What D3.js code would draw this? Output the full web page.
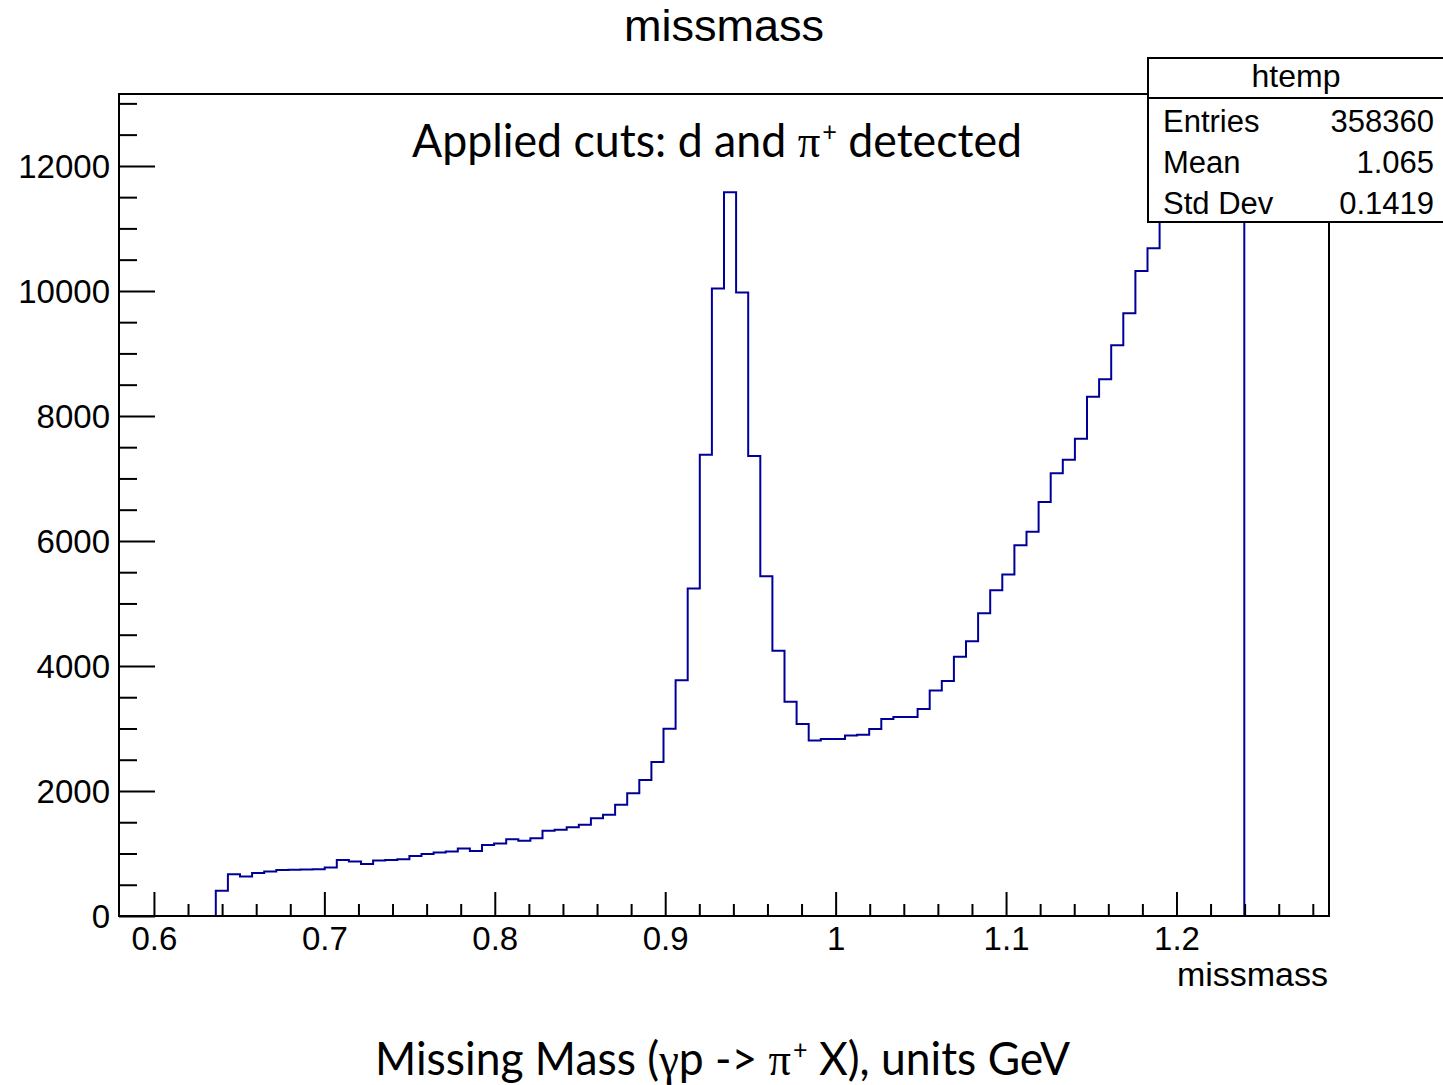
<!DOCTYPE html>
<html lang="en">
<head>
<meta charset="utf-8">
<title>missmass</title>
<script src="https://d3js.org/d3.v7.min.js"></script>
<style>
  body { margin: 0; background: #fff; }
  svg { display: block; font-family: "Liberation Sans", Arial, sans-serif; }
</style>
</head>
<body>
<script>
// histogram range (ROOT htemp, 100 bins)
var xMin = 0.5795, xMax = 1.2895, nBins = 100;

// bin contents, bin 0 .. 99
var counts = [
  0, 0, 0, 0, 0, 0, 0, 0,
  405, 668, 630, 689, 710, 737, 740, 742, 748, 774,
  897, 870, 833, 886, 897, 908, 961, 993, 1014, 1030,
  1078, 1041, 1137, 1160, 1228, 1202, 1245, 1362, 1378, 1421,
  1458, 1565, 1618, 1778, 1965, 2175, 2462, 2996, 3770, 5239,
  7380, 10040, 11578, 9976, 7359, 5436, 4245, 3428, 3071, 2809,
  2831, 2831, 2887, 2900, 2991, 3151, 3183, 3183, 3311, 3609,
  3760, 4149, 4395, 4843, 5212, 5463, 5933, 6147, 6622, 7081,
  7300, 7635, 8305, 8587, 9132, 9644, 10317, 10683,
  11400, 12000, 12600, 13300, 13900, 14500, 15100,
  0, 0, 0, 0, 0, 0, 0
];

var xMajor = [0.6, 0.7, 0.8, 0.9, 1.0, 1.1, 1.2];
var xMajorLabels = ["0.6", "0.7", "0.8", "0.9", "1", "1.1", "1.2"];
var xMinor = [0.62, 0.64, 0.66, 0.68, 0.72, 0.74, 0.76, 0.78, 0.82, 0.84, 0.86, 0.88,
  0.92, 0.94, 0.96, 0.98, 1.02, 1.04, 1.06, 1.08, 1.12, 1.14, 1.16, 1.18,
  1.22, 1.24, 1.26, 1.28];
var yMajor = [0, 2000, 4000, 6000, 8000, 10000, 12000];
var yMinor = [500, 1000, 1500, 2500, 3000, 3500, 4500, 5000, 5500, 6500, 7000, 7500,
  8500, 9000, 9500, 10500, 11000, 11500, 12500, 13000];

var statNames = ["Entries", "Mean", "Std Dev"];
var statValues = ["358360", "1.065", "0.1419"];

var width = 1443, height = 1085;
var padL = 119, padR = 1329, padT = 94, padB = 916;

var svg = d3.select("body").append("svg")
    .attr("width", width)
    .attr("height", height);

var x = d3.scaleLinear().domain([xMin, xMax]).range([padL, padR]);
var y = d3.scaleLinear().domain([0, 13150]).range([padB, padT]);

svg.append("clipPath").attr("id", "frame")
  .append("rect")
    .attr("x", padL).attr("y", padT)
    .attr("width", padR - padL).attr("height", padB - padT);

// step outline of the histogram
var binW = (xMax - xMin) / nBins;
var pts = [[x(xMin), y(0)]];
counts.forEach(function(c, i) {
    pts.push([x(xMin + i * binW), y(c)]);
    pts.push([x(xMin + (i + 1) * binW), y(c)]);
});
pts.push([x(xMax), y(0)]);

svg.append("path")
    .attr("clip-path", "url(#frame)")
    .attr("d", d3.line()(pts))
    .attr("fill", "none")
    .attr("stroke", "#000099")
    .attr("stroke-width", 2);

// axes: ticks point into the frame
svg.append("g")
    .attr("transform", "translate(0," + padB + ")")
    .call(d3.axisBottom(x).tickValues(xMajor)
        .tickFormat(function(d, i) { return xMajorLabels[i]; })
        .tickSizeInner(-24).tickSizeOuter(0).tickPadding(11));
svg.append("g")
    .attr("transform", "translate(0," + padB + ")")
    .call(d3.axisBottom(x).tickValues(xMinor).tickFormat("")
        .tickSizeInner(-12).tickSizeOuter(0));

var yAxis = svg.append("g")
    .attr("transform", "translate(" + padL + ",0)")
    .call(d3.axisLeft(y).tickValues(yMajor).tickFormat(d3.format("d"))
        .tickSizeInner(-36).tickSizeOuter(0).tickPadding(9));
svg.append("g")
    .attr("transform", "translate(" + padL + ",0)")
    .call(d3.axisLeft(y).tickValues(yMinor).tickFormat("")
        .tickSizeInner(-18).tickSizeOuter(0));

svg.selectAll(".domain").remove();
svg.selectAll(".tick line").attr("stroke", "#000").attr("stroke-width", 2);
svg.selectAll(".tick text")
    .attr("fill", "#000")
    .style("font-size", "33px")
    .style("font-family", "'Liberation Sans', Arial, sans-serif");
yAxis.selectAll(".tick text").attr("dy", "0.35em");

// frame
svg.append("rect")
    .attr("x", padL).attr("y", padT)
    .attr("width", padR - padL).attr("height", padB - padT)
    .attr("fill", "none")
    .attr("stroke", "#000")
    .attr("stroke-width", 2);

// titles
svg.append("text")
    .attr("x", 724).attr("y", 41)
    .attr("text-anchor", "middle")
    .style("font-size", "45px")
    .text("missmass");

svg.append("text")
    .attr("x", 1328).attr("y", 986)
    .attr("text-anchor", "end")
    .style("font-size", "34px")
    .text("missmass");

var cuts = svg.append("text")
    .attr("x", 412).attr("y", 157)
    .attr("textLength", 610)
    .attr("lengthAdjust", "spacingAndGlyphs")
    .style("font-family", "Lato, 'Open Sans', sans-serif")
    .style("font-size", "46px");
cuts.append("tspan").text("Applied cuts: d and ");
cuts.append("tspan").style("font-family", "'Liberation Serif', serif").text("\u03c0");
cuts.append("tspan").attr("dx", 2).attr("dy", -16).style("font-size", "26px").text("+");
cuts.append("tspan").attr("dy", 16).text(" detected");

var xt = svg.append("text")
    .attr("x", 375).attr("y", 1075)
    .attr("textLength", 695)
    .attr("lengthAdjust", "spacingAndGlyphs")
    .style("font-family", "Lato, 'Open Sans', sans-serif")
    .style("font-size", "46px");
xt.append("tspan").text("Missing Mass (");
xt.append("tspan").style("font-family", "'Liberation Serif', serif").text("\u03b3");
xt.append("tspan").text("p -> ");
xt.append("tspan").style("font-family", "'Liberation Serif', serif").text("\u03c0");
xt.append("tspan").attr("dx", 2).attr("dy", -16).style("font-size", "26px").text("+");
xt.append("tspan").attr("dy", 16).text(" X), units GeV");

// stats box
var stats = svg.append("g");
stats.append("rect")
    .attr("x", 1148).attr("y", 58)
    .attr("width", 320).attr("height", 164)
    .attr("fill", "#fff")
    .attr("stroke", "#000")
    .attr("stroke-width", 2);
stats.append("line")
    .attr("x1", 1148).attr("x2", 1470)
    .attr("y1", 98).attr("y2", 98)
    .attr("stroke", "#000").attr("stroke-width", 2);
stats.append("text")
    .attr("x", 1296).attr("y", 87)
    .attr("text-anchor", "middle")
    .style("font-size", "32px")
    .text("htemp");
stats.selectAll(".sname")
    .data(statNames)
  .enter().append("text")
    .attr("class", "sname")
    .attr("x", 1163)
    .attr("y", function(d, i) { return 132 + i * 41; })
    .style("font-size", "31px")
    .text(function(d) { return d; });
stats.selectAll(".sval")
    .data(statValues)
  .enter().append("text")
    .attr("class", "sval")
    .attr("x", 1434)
    .attr("y", function(d, i) { return 132 + i * 41; })
    .attr("text-anchor", "end")
    .style("font-size", "31px")
    .text(function(d) { return d; });
</script>
</body>
</html>
